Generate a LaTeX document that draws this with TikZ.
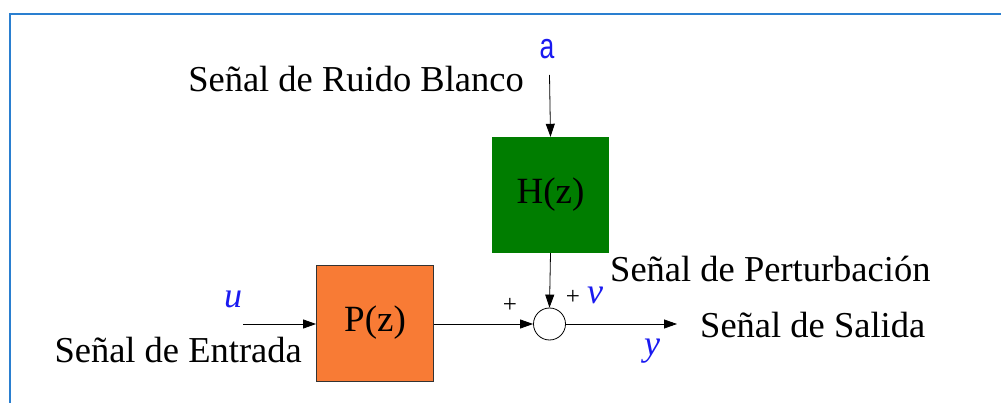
\documentclass[tikz,border=0pt]{standalone}
\usepackage{fontspec}
\setmainfont{Liberation Serif}
\newfontfamily\lsans{Liberation Sans}
\usetikzlibrary{arrows.meta}
\definecolor{frameblue}{HTML}{2A7FD0}
\definecolor{hgreen}{HTML}{007D00}
\definecolor{porange}{HTML}{F87B35}
\definecolor{lblue}{HTML}{1A1AF0}
\tikzset{
  blk/.style={minimum width=117pt, minimum height=116pt, inner sep=0pt, font=\fontsize{37}{40}\selectfont},
  txt/.style={font=\fontsize{36.5}{40}\selectfont, inner sep=0pt},
  var/.style={font=\fontsize{36}{40}\selectfont\itshape, text=lblue, inner sep=0pt},
  sgn/.style={font=\fontsize{25}{27}\selectfont, inner sep=0pt},
  arr/.style={-{Triangle[length=13pt,width=9pt]}, line width=0.8pt},
  sumc/.style={circle, draw, line width=0.8pt, minimum size=32pt, inner sep=0pt}
}
\begin{document}
\begin{tikzpicture}[x=1pt,y=-1pt]
\useasboundingbox (0,0) rectangle (1001,403);
\draw[frameblue, line width=2.5pt] (10,403) -- (10,14) -- (1001,14);
\node[blk, fill=hgreen] (H) at (550.5,195) {H(z)};
\node[blk, fill=porange, draw=black!80, line width=0.8pt] (P) at (375,323) {P(z)};
\node[sumc] (S) at (549.5,324) {};
\coordinate (atop) at (549.5,75);
\coordinate (uin) at (243,324);
\coordinate (yout) at (677,324);
\node[font=\lsans\fontsize{34}{36}\selectfont, text=lblue, inner sep=0pt, anchor=base] (alab) at (547,59) {\scalebox{0.78}[1.05]{a}};
\node[txt, anchor=base east] (ruido) at (524,92) {Señal de Ruido Blanco};
\node[txt, anchor=base west] (pert) at (610,282) {Señal de Perturbación};
\node[txt, anchor=base east] (entr) at (302,362) {Señal de Entrada};
\node[txt, anchor=base west] (sal) at (700,337) {Señal de Salida};
\node[var, anchor=base] (u) at (233,308) {u};
\node[var, anchor=base] (v) at (595,303) {v};
\node[var, anchor=base] (y) at (652,355) {y};
\node[sgn] (p1) at (510,305) {+};
\node[sgn] (p2) at (573,297) {+};
\draw[arr] (atop) -- (H.north);
\draw[arr] (H.south) -- (S.north);
\draw[arr] (P.east |- S.west) -- (S.west);
\draw[arr] (uin) -- (uin -| P.west);
\draw[arr] (S.east) -- (yout);
\end{tikzpicture}
\end{document}
